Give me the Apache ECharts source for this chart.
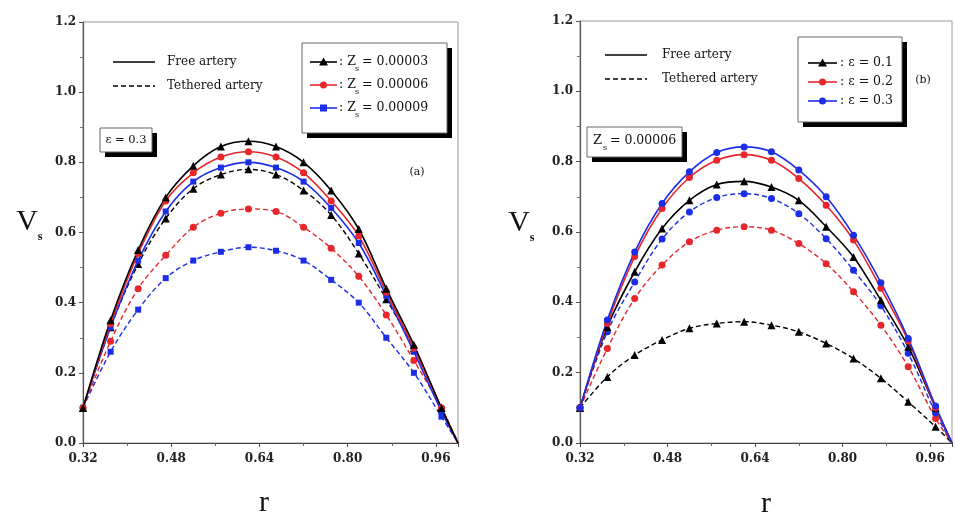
<!DOCTYPE html>
<html>
<head>
<meta charset="utf-8">
<script src="https://cdn.jsdelivr.net/npm/echarts@6/dist/echarts.min.js"></script>
<style>
  html, body { margin: 0; padding: 0; background: #fff; }
  #chart { width: 955px; height: 519px; }
</style>
</head>
<body>
<div id="chart"></div>
<script>
// Radial positions where the velocity profiles are sampled
const rValues = [0.32, 0.37, 0.42, 0.47, 0.52, 0.57, 0.62, 0.67, 0.72, 0.77, 0.82, 0.87, 0.92, 0.97, 1.0];

// Panel (a): epsilon = 0.3, varying Z_s
const freeZ00003 = [0.10, 0.35, 0.55, 0.70, 0.79, 0.845, 0.86, 0.845, 0.80, 0.72, 0.61, 0.44, 0.28, 0.10, 0.0];
const freeZ00006 = [0.10, 0.34, 0.54, 0.69, 0.77, 0.815, 0.83, 0.815, 0.77, 0.69, 0.59, 0.43, 0.27, 0.10, 0.0];
const freeZ00009 = [0.10, 0.33, 0.52, 0.66, 0.745, 0.785, 0.80, 0.785, 0.745, 0.67, 0.57, 0.42, 0.26, 0.09, 0.0];
const tethZ00003 = [0.10, 0.33, 0.51, 0.64, 0.725, 0.765, 0.78, 0.765, 0.72, 0.65, 0.54, 0.41, 0.27, 0.10, 0.0];
const tethZ00006 = [0.10, 0.29, 0.44, 0.535, 0.615, 0.655, 0.667, 0.66, 0.615, 0.555, 0.475, 0.365, 0.235, 0.10, 0.0];
const tethZ00009 = [0.10, 0.26, 0.38, 0.47, 0.52, 0.545, 0.558, 0.548, 0.52, 0.465, 0.40, 0.30, 0.20, 0.075, 0.0];

// Panel (b): Z_s = 0.00006, varying epsilon
const freeE01 = [0.10, 0.33, 0.487, 0.61, 0.69, 0.735, 0.744, 0.728, 0.69, 0.615, 0.529, 0.406, 0.274, 0.10, 0.0];
const freeE02 = [0.10, 0.34, 0.53, 0.667, 0.755, 0.804, 0.82, 0.804, 0.752, 0.676, 0.577, 0.44, 0.29, 0.10, 0.0];
const freeE03 = [0.10, 0.35, 0.543, 0.681, 0.771, 0.826, 0.842, 0.828, 0.776, 0.70, 0.591, 0.456, 0.297, 0.105, 0.0];
const tethE01 = [0.10, 0.188, 0.25, 0.293, 0.326, 0.34, 0.345, 0.335, 0.316, 0.283, 0.24, 0.184, 0.117, 0.046, 0.0];
const tethE02 = [0.10, 0.269, 0.411, 0.506, 0.572, 0.605, 0.615, 0.605, 0.567, 0.51, 0.43, 0.335, 0.217, 0.07, 0.0];
const tethE03 = [0.10, 0.316, 0.458, 0.58, 0.657, 0.698, 0.709, 0.695, 0.652, 0.581, 0.491, 0.39, 0.255, 0.085, 0.0];

// Axis settings
const xMin = 0.32, xMax = 1.0, xStep = 0.16;
const yMin = 0.0, yMax = 1.2, yStep = 0.2;

// Legend labels
const panelALabels = ['0.00003', '0.00006', '0.00009'];
const panelBLabels = ['0.1', '0.2', '0.3'];

const BLACK = '#000000', RED = '#e6262b', BLUE = '#1c2de6';
const FONT = "'DejaVu Serif', serif";
const LABEL_FONT = "'Liberation Serif', serif";

const markSize = { triangle: 8, circle: 7, rect: 6 };

function curve(idx, values, color, symbol, dashed) {
  return {
    type: 'line',
    xAxisIndex: idx, yAxisIndex: idx,
    data: rValues.map((x, i) => [x, values[i]]),
    smooth: 0.35,
    symbol: symbol,
    symbolSize: (v) => (v[0] >= 0.999 ? 0 : markSize[symbol]),
    showSymbol: true,
    lineStyle: { color: color, width: dashed ? 1.4 : 1.6, type: dashed ? [5, 3] : 'solid' },
    itemStyle: { color: color },
    emphasis: { disabled: true },
    z: dashed ? 3 : 4
  };
}

function xAxis(idx) {
  return {
    type: 'value', gridIndex: idx, min: xMin, max: xMax, interval: xStep,
    axisLine: { show: true, lineStyle: { color: '#444', width: 1.2 } },
    axisTick: { show: true, inside: false, length: 4, lineStyle: { color: '#444' } },
    minorTick: { show: true, splitNumber: 2, length: 3, lineStyle: { color: '#666' } },
    splitLine: { show: false },
    axisLabel: {
      margin: 10, color: '#222', fontFamily: FONT, fontWeight: 'bold', fontSize: 12,
      formatter: (v) => (v > 0.97 ? '' : v.toFixed(2))
    }
  };
}

function yAxis(idx) {
  return {
    type: 'value', gridIndex: idx, min: yMin, max: yMax, interval: yStep,
    axisLine: { show: true, lineStyle: { color: '#555', width: 1.2 } },
    axisTick: { show: true, inside: false, length: 4, lineStyle: { color: '#555' } },
    minorTick: { show: true, splitNumber: 2, length: 3, lineStyle: { color: '#777' } },
    splitLine: { show: false },
    axisLabel: {
      margin: 7, color: '#222', fontFamily: FONT, fontWeight: 'bold', fontSize: 12,
      formatter: (v) => v.toFixed(1)
    }
  };
}

// Small marker glyphs for the legend boxes
function markerGlyph(shape, cx, cy, color) {
  if (shape === 'triangle') {
    return { type: 'polygon', shape: { points: [[cx, cy - 4.5], [cx - 4.5, cy + 3.5], [cx + 4.5, cy + 3.5]] }, style: { fill: color }, z: 101 };
  }
  if (shape === 'circle') {
    return { type: 'circle', shape: { cx: cx, cy: cy, r: 3.5 }, style: { fill: color }, z: 101 };
  }
  return { type: 'rect', shape: { x: cx - 3.5, y: cy - 3.5, width: 7, height: 7 }, style: { fill: color }, z: 101 };
}

function txt(x, y, text, size, extra) {
  return Object.assign({
    type: 'text', x: x, y: y, z: 102,
    style: Object.assign({ text: text, fill: '#111', font: size + 'px ' + FONT, textVerticalAlign: 'middle' }, extra || {})
  });
}

function shadowBox(x, y, w, h, off) {
  return [
    { type: 'rect', shape: { x: x + off, y: y + off, width: w, height: h }, style: { fill: '#000' }, z: 99 },
    { type: 'rect', shape: { x: x, y: y, width: w, height: h }, style: { fill: '#fff', stroke: '#666', lineWidth: 1 }, z: 100 }
  ];
}

const graphics = [];

// Line-style keys (both panels)
[[113, 62, 167], [605, 55, 662]].forEach(([x0, y0, tx]) => {
  graphics.push({ type: 'line', shape: { x1: x0, y1: y0, x2: x0 + 42, y2: y0 }, style: { stroke: '#000', lineWidth: 1.6 }, z: 101 });
  graphics.push(txt(tx, y0, 'Free artery', 12));
  graphics.push({ type: 'line', shape: { x1: x0, y1: y0 + 24, x2: x0 + 42, y2: y0 + 24 }, style: { stroke: '#000', lineWidth: 1.4, lineDash: [5, 3] }, z: 101 });
  graphics.push(txt(tx, y0 + 24, 'Tethered artery', 12));
});

// Panel (a) series key
graphics.push(...shadowBox(302, 43, 145, 90, 5));
[[BLACK, 'triangle', 62], [RED, 'circle', 85], [BLUE, 'rect', 108]].forEach(([c, s, y], i) => {
  graphics.push({ type: 'line', shape: { x1: 310, y1: y, x2: 337, y2: y }, style: { stroke: c, lineWidth: 1.6 }, z: 101 });
  graphics.push(markerGlyph(s, 323.5, y, c));
  graphics.push(txt(339, y, ': Z', 12.5));
  graphics.push(txt(355, y + 7, 's', 8));
  graphics.push(txt(362, y, '= ' + panelALabels[i], 12.5));
});

// Panel (a) parameter box
graphics.push(...shadowBox(100, 128, 52, 24, 5));
graphics.push(txt(126, 140, 'ε = 0.3', 11.5, { textAlign: 'center' }));
graphics.push(txt(417, 172, '(a)', 11, { textAlign: 'center' }));

// Panel (b) series key
graphics.push(...shadowBox(798, 37, 104, 85, 5));
[[BLACK, 'triangle', 63], [RED, 'circle', 82], [BLUE, 'rect', 101]].forEach(([c, s, y], i) => {
  graphics.push({ type: 'line', shape: { x1: 808, y1: y, x2: 837, y2: y }, style: { stroke: c, lineWidth: 1.6 }, z: 101 });
  graphics.push(markerGlyph(s === 'rect' ? 'circle' : s, 822.5, y, c));
  graphics.push(txt(840, y, ': ε = ' + panelBLabels[i], 12.5));
});

// Panel (b) parameter box
graphics.push(...shadowBox(587, 127, 95, 30, 5));
graphics.push(txt(593, 141, 'Z', 13));
graphics.push(txt(603, 148, 's', 8));
graphics.push(txt(610, 141, '= 0.00006', 12.5));
graphics.push(txt(923, 80, '(b)', 11, { textAlign: 'center' }));

// Axis titles
[[27, 222], [519, 223]].forEach(([x, y]) => {
  graphics.push({ type: 'text', x: x, y: y, z: 102, style: { text: 'V', fill: '#111', font: '30px ' + LABEL_FONT, textAlign: 'center', textVerticalAlign: 'middle' } });
  graphics.push({ type: 'text', x: x + 13, y: y + 15, z: 102, style: { text: 's', fill: '#111', font: 'bold 12px ' + LABEL_FONT, textAlign: 'center', textVerticalAlign: 'middle' } });
});
[[264, 503], [766, 504]].forEach(([x, y]) => {
  graphics.push({ type: 'text', x: x, y: y, z: 102, style: { text: 'r', fill: '#111', font: '30px ' + LABEL_FONT, textAlign: 'center', textVerticalAlign: 'middle' } });
});

const option = {
  animation: false,
  backgroundColor: '#fff',
  grid: [
    { left: 83, top: 22, width: 375, height: 421, show: true, borderColor: '#999', borderWidth: 1, backgroundColor: 'transparent' },
    { left: 580, top: 21, width: 374, height: 422, show: true, borderColor: '#999', borderWidth: 1, backgroundColor: 'transparent' }
  ],
  xAxis: [xAxis(0), xAxis(1)],
  yAxis: [yAxis(0), yAxis(1)],
  series: [
    curve(0, tethZ00009, BLUE, 'rect', true),
    curve(0, tethZ00006, RED, 'circle', true),
    curve(0, tethZ00003, BLACK, 'triangle', true),
    curve(0, freeZ00009, BLUE, 'rect', false),
    curve(0, freeZ00006, RED, 'circle', false),
    curve(0, freeZ00003, BLACK, 'triangle', false),
    curve(1, tethE01, BLACK, 'triangle', true),
    curve(1, tethE02, RED, 'circle', true),
    curve(1, tethE03, BLUE, 'circle', true),
    curve(1, freeE01, BLACK, 'triangle', false),
    curve(1, freeE02, RED, 'circle', false),
    curve(1, freeE03, BLUE, 'circle', false)
  ],
  graphic: graphics
};

const chart = echarts.init(document.getElementById('chart'), null, { renderer: 'canvas' });
chart.setOption(option);
</script>
</body>
</html>
